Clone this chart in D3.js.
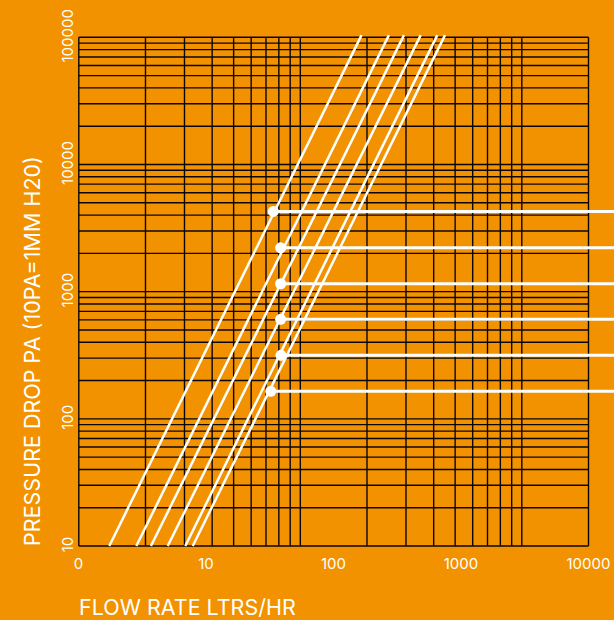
<!DOCTYPE html>
<html>
<head>
<meta charset="utf-8">
<script src="https://cdn.jsdelivr.net/npm/d3@7"></script>
<style>
  html, body { margin: 0; padding: 0; background: #f29200; }
  svg { display: block; }
</style>
</head>
<body>
<svg></svg>
<script>
// axis ticks
const flowTicks = [1, 10, 100, 1000, 10000];
const flowLabels = ["0", "10", "100", "1000", "10000"];
const pressureTicks = [10, 100, 1000, 10000, 100000];
const pressureLabels = ["10", "100", "1000", "10000", "100000"];

// each curve: flow at the bottom (10 Pa) and at the top end
const curveP = [10, 104000];
const curveFlowLow = [1.744, 2.84, 3.70, 5.01, 6.88, 7.87];
const curveFlowHigh = [166, 272, 357, 483, 652, 749];

// marked points
const markFlow = [33.7, 38.5, 38.5, 38.5, 38.7, 32.2];
const markP = [4277, 2213, 1154, 606, 316, 164.5];

let W = 614, H = 620;
let svg = d3.select("svg").attr("width", W).attr("height", H);

let x = d3.scaleLog().domain([1, 10000]).range([78.5, 588.5]);
// the printed grid is a log grid of its own, 1..200 across the same box
let xGrid = d3.scaleLog().domain([1, 200]).range([78.8, 588.5]);
let y = d3.scaleLog().domain([10, 100000]).range([546, 37.3]);

let grid = svg.append("g")
    .style("stroke", "#0a0500")
    .style("stroke-width", 1.4);

grid.selectAll("line.v")
    .data(xGrid.ticks())
    .join("line")
    .attr("class", "v")
    .attr("x1", d => xGrid(d))
    .attr("x2", d => xGrid(d))
    .attr("y1", y(100000))
    .attr("y2", y(10));

grid.selectAll("line.h")
    .data(y.ticks())
    .join("line")
    .attr("class", "h")
    .attr("x1", xGrid(1))
    .attr("x2", xGrid(200))
    .attr("y1", d => y(d))
    .attr("y2", d => y(d));

// curves
let curves = svg.append("g")
    .style("stroke", "#fff")
    .style("stroke-width", 2.5)
    .style("fill", "none");

let line = d3.line().x(d => x(d[0])).y(d => y(d[1]));

curves.selectAll("path")
    .data(curveFlowLow.map((q, i) => [[q, curveP[0]], [curveFlowHigh[i], curveP[1]]]))
    .join("path")
    .attr("d", line);

// markers with leader lines
let marks = svg.append("g");
marks.selectAll("line")
    .data(markFlow.map((q, i) => [q, markP[i]]))
    .join("line")
    .attr("x1", d => x(d[0]))
    .attr("x2", W)
    .attr("y1", d => y(d[1]))
    .attr("y2", d => y(d[1]))
    .style("stroke", "#fff")
    .style("stroke-width", 3);

marks.selectAll("circle")
    .data(markFlow.map((q, i) => [q, markP[i]]))
    .join("circle")
    .attr("cx", d => x(d[0]))
    .attr("cy", d => y(d[1]))
    .attr("r", 5.5)
    .style("fill", "#fff");

// tick labels
svg.append("g").selectAll("text")
    .data(flowTicks)
    .join("text")
    .attr("x", d => x(d))
    .attr("y", 569)
    .attr("text-anchor", "middle")
    .style("font-family", "Inter, sans-serif")
    .style("font-size", "15px")
    .style("fill", "#fff")
    .text((d, i) => flowLabels[i]);

svg.append("g").selectAll("text")
    .data(pressureTicks)
    .join("text")
    .attr("transform", d => `translate(73, ${y(d) - 1.5}) rotate(-90)`)
    .attr("text-anchor", "middle")
    .style("font-family", "Inter, sans-serif")
    .style("font-size", "15px")
    .style("fill", "#fff")
    .text((d, i) => pressureLabels[i]);

// titles
svg.append("text")
    .attr("x", 79)
    .attr("y", 615)
    .style("font-family", "Inter, sans-serif")
    .style("font-size", "21.5px")
    .style("fill", "#fff")
    .text("FLOW RATE LTRS/HR");

svg.append("text")
    .attr("transform", "translate(39.5, 351) rotate(-90)")
    .attr("text-anchor", "middle")
    .style("font-family", "Inter, sans-serif")
    .style("font-size", "21.5px")
    .style("fill", "#fff")
    .text("PRESSURE DROP PA (10PA=1MM H20)");
</script>
</body>
</html>
